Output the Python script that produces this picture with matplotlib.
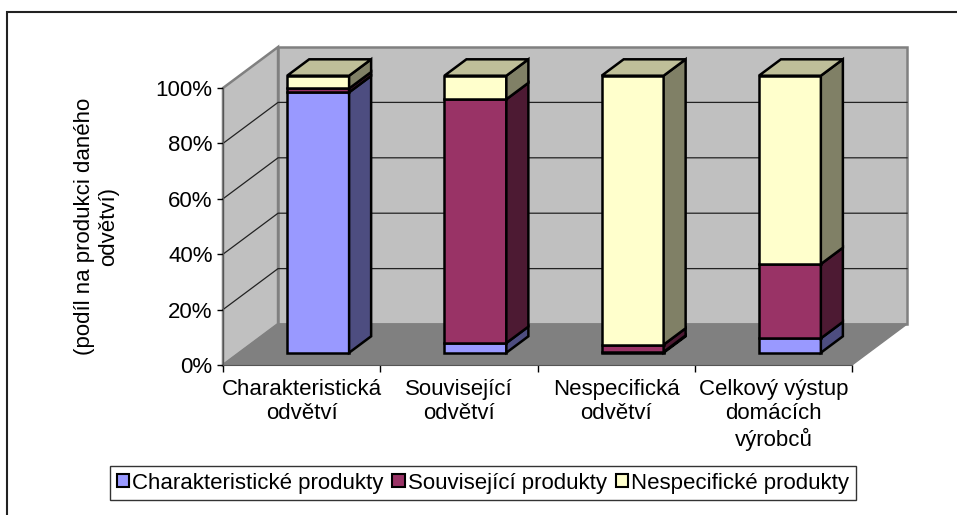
import numpy as np
import matplotlib
matplotlib.use('Agg')
import matplotlib.pyplot as plt
from matplotlib.patches import Polygon, Rectangle, Patch

plt.rcParams['font.family'] = ['Liberation Sans', 'DejaVu Sans']

# data (podil v %)
kategorie = ['Charakteristická\nodvětví', 'Související\nodvětví',
             'Nespecifická\nodvětví', 'Celkový výstup\ndomácích\nvýrobců']
serie = ['Charakteristické produkty', 'Související produkty', 'Nespecifické produkty']
charakteristicke = [94.0, 3.5, 0.3, 5.2]
souvisejici = [1.4, 88.0, 2.6, 26.8]
nespecificke = [4.6, 8.5, 97.1, 68.0]
barvy = ['#9999FF', '#993366', '#FFFFCC']
yticky = [0, 20, 40, 60, 80, 100]
fs = 16


def ztmavit(c, f):
    r, g, b = matplotlib.colors.to_rgb(c)
    return (r * f, g * f, b * f)


fig = plt.figure(figsize=(9.57, 5.15), dpi=100)
ax = fig.add_axes([223 / 957, 1 - 365 / 515, 629 / 957, 277 / 515])
ax.set_xlim(0, len(kategorie))
ax.set_ylim(0, 100)
ax.patch.set_visible(False)

# hloubka (posun zadni steny)
dx, dy = 0.35, 14.8
n = len(kategorie)

# steny a podlaha
ax.add_patch(Polygon([(0, 0), (0, 100), (dx, 100 + dy), (dx, dy)], closed=True,
                     facecolor='#C0C0C0', edgecolor='#808080', lw=1.8, clip_on=False, zorder=0.5))
ax.add_patch(Polygon([(dx, dy), (dx, 100 + dy), (n + dx, 100 + dy), (n + dx, dy)], closed=True,
                     facecolor='#C0C0C0', edgecolor='#808080', lw=1.8, clip_on=False, zorder=0.5))
ax.add_patch(Polygon([(0, 0), (n, 0), (n + dx, dy), (dx, dy)], closed=True,
                     facecolor='#808080', edgecolor='#808080', lw=1, clip_on=False, zorder=0.6))

for v in yticky[1:-1]:
    ax.plot([0, dx, n + dx], [v, v + dy, v + dy], color='#222222', lw=0.9,
            clip_on=False, zorder=1)

# sloupce
w = 0.394
z0, z1 = 0.3, 0.7
data = np.array([charakteristicke, souvisejici, nespecificke])
for i in range(n):
    spodek = 0
    x0 = i + 0.5 - w / 2 + z0 * dx
    x1 = x0 + w
    for j in range(len(serie)):
        h = data[j, i]
        y0 = spodek + z0 * dy
        y1 = y0 + h
        ax.add_patch(Rectangle((x0, y0), w, h, facecolor=barvy[j], edgecolor='black',
                               lw=1.8, clip_on=False, zorder=2))
        ax.add_patch(Polygon([(x1, y0), (x1, y1), (x1 + (z1 - z0) * dx, y1 + (z1 - z0) * dy),
                              (x1 + (z1 - z0) * dx, y0 + (z1 - z0) * dy)], closed=True,
                             facecolor=ztmavit(barvy[j], 0.5), edgecolor='black', lw=1.8,
                             clip_on=False, zorder=2))
        spodek += h
    yt = spodek + z0 * dy
    ax.add_patch(Polygon([(x0, yt), (x1, yt), (x1 + (z1 - z0) * dx, yt + (z1 - z0) * dy),
                          (x0 + (z1 - z0) * dx, yt + (z1 - z0) * dy)], closed=True,
                         facecolor=ztmavit(barvy[-1], 0.75), edgecolor='black', lw=1.8,
                         clip_on=False, zorder=2))

# osy
for s in ['top', 'right']:
    ax.spines[s].set_visible(False)
ax.spines['left'].set_color('#555555')
ax.spines['bottom'].set_color('#555555')
ax.set_yticks(yticky)
ax.set_yticklabels([f'{v}%' for v in yticky])
ax.tick_params(axis='y', length=4.5, width=1, pad=3, labelsize=fs)
ax.set_xticks(range(n + 1))
ax.set_xticklabels([''] * (n + 1))
ax.tick_params(axis='x', which='major', length=5, width=1)
ax.set_xticks(np.arange(n) + 0.5, minor=True)
ax.set_xticklabels(kategorie, minor=True, fontsize=fs, linespacing=1.2)
ax.tick_params(axis='x', which='minor', length=0, pad=10)

ax.set_ylabel('(podíl na produkci daného\nodvětví)', fontsize=fs, linespacing=1.2)
ax.yaxis.set_label_coords(-0.165, 0.5)

# legenda
handles = [Patch(facecolor=c, edgecolor='black', lw=1.5) for c in barvy]
leg = fig.legend(handles, serie, loc='center', bbox_to_anchor=(483 / 957, 1 - 483 / 515),
                 ncol=3, fontsize=fs, fancybox=False, frameon=True, handlelength=0.55,
                 handleheight=0.55, handletextpad=0.15, columnspacing=0.4, borderpad=0.3,
                 borderaxespad=0)
leg.get_frame().set_edgecolor('black')
leg.get_frame().set_linewidth(1)

# ramecek grafu
fig.patches.append(Rectangle((7 / 957, -0.2), 2, 1.2 - 12 / 515, transform=fig.transFigure,
                             fill=False, edgecolor='#222222', lw=1.5, figure=fig))

fig.savefig('out.png', dpi=100)
